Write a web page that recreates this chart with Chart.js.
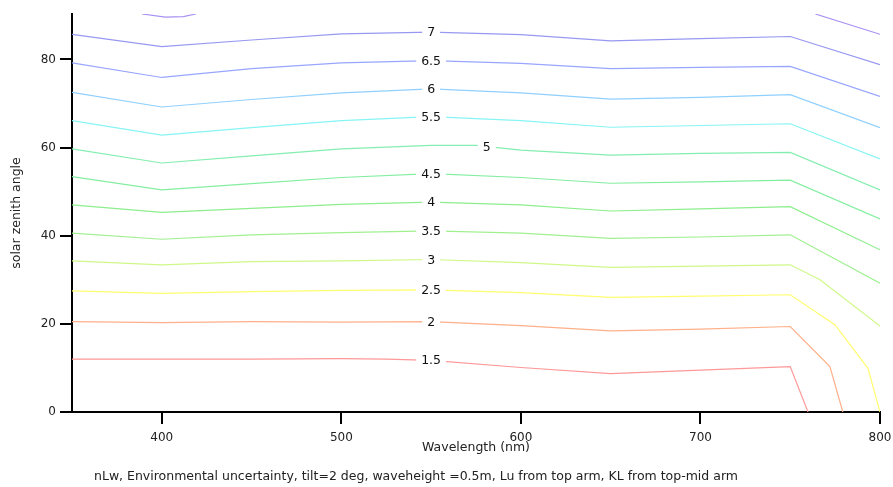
<!DOCTYPE html>
<html><head><meta charset="utf-8">
<script src="https://cdn.jsdelivr.net/npm/chart.js@4"></script>
<style>html,body{margin:0;padding:0;background:#fff;}</style>
</head><body>
<canvas id="c" width="893" height="487"></canvas>
<script>
// ---- data ----
const levels = ['1.5','2','2.5','3','3.5','4','4.5','5','5.5','6','6.5','7','7.5'];
const colors = ['#ff9898','#ffb088','#ffff70','#d0f888','#a0f090','#8cee8c','#84eea0','#84eeb0','#88f4f4','#90d0ff','#98a6ff','#9898f2','#a690f2'];

const x15 = [350,400,450,500,525,550,600,650,700,750,759.9];
const y15 = [12.0,12.0,12.0,12.1,12.0,11.7,10.1,8.7,9.5,10.3,0];
const x20 = [350,400,450,500,550,600,650,700,750,772.1,779.3];
const y20 = [20.5,20.3,20.5,20.4,20.5,19.6,18.4,18.8,19.4,10.3,0];
const x25 = [350,400,450,500,550,600,650,700,750,774.9,793.3,800];
const y25 = [27.5,26.9,27.3,27.6,27.7,27.1,26.0,26.3,26.6,19.8,9.9,0];
const x30 = [350,400,450,500,550,600,650,700,750,766.6,800];
const y30 = [34.3,33.4,34.1,34.3,34.6,33.9,32.8,33.1,33.4,30.0,19.5];
const x35 = [350,400,450,500,550,600,650,700,750,800];
const y35 = [40.6,39.2,40.2,40.7,41.1,40.6,39.4,39.7,40.2,29.2];
const x40 = [350,400,450,500,550,600,650,700,750,800];
const y40 = [47.0,45.3,46.2,47.1,47.6,47.0,45.6,46.1,46.6,36.8];
const x45 = [350,400,450,500,550,600,650,700,750,800];
const y45 = [53.4,50.4,51.8,53.2,54.1,53.2,51.9,52.2,52.6,43.8];
const x50 = [350,400,450,500,550,575,600,650,700,750,800];
const y50 = [59.7,56.5,58.1,59.7,60.5,60.5,59.4,58.3,58.7,58.9,50.4];
const x55 = [350,400,450,500,550,600,650,700,750,800];
const y55 = [66.1,62.8,64.5,66.1,67.0,66.1,64.6,65.0,65.4,57.4];
const x60 = [350,400,450,500,550,600,650,700,750,800];
const y60 = [72.5,69.2,70.9,72.4,73.3,72.4,71.0,71.4,72.0,64.5];
const x65 = [350,400,450,500,550,600,650,700,750,800];
const y65 = [79.2,75.9,77.9,79.2,79.7,79.1,77.9,78.2,78.4,71.6];
const x70 = [350,400,450,500,550,600,650,700,750,800];
const y70 = [85.7,82.9,84.4,85.8,86.2,85.6,84.2,84.7,85.2,78.8];
const x75 = [389,402,412,419,600,764,800];
const y75 = [90.3,89.6,89.7,90.3,null,90.3,85.7];

const labelText = ['7','6.5','6','5.5','5','4.5','4','3.5','3','2.5','2','1.5'];
const labelX    = [550,550,550,550,581,550,550,550,550,550,550,550];
const labelY    = [86.2,79.7,73.3,67.0,60.2,54.1,47.7,41.1,34.6,27.7,20.5,11.8];

const xTicks = [400,500,600,700,800];
const yTicks = [0,20,40,60,80];
const xTitle = 'Wavelength (nm)';
const yTitle = 'solar zenith angle';
const caption = 'nLw, Environmental uncertainty, tilt=2 deg, waveheight =0.5m, Lu from top arm, KL from top-mid arm';

// ---- build chart ----
const FONT = '"DejaVu Sans", Verdana, sans-serif';
const xs = [x15,x20,x25,x30,x35,x40,x45,x50,x55,x60,x65,x70,x75];
const ys = [y15,y20,y25,y30,y35,y40,y45,y50,y55,y60,y65,y70,y75];
const datasets = levels.map((lv,i) => ({
  label: lv,
  data: xs[i].map((x,j) => ({x: x, y: ys[i][j]})),
  borderColor: colors[i],
  borderWidth: 1.2,
  pointRadius: 0,
  tension: 0,
  fill: false,
  spanGaps: false
}));

const textPlugin = {
  id: 'textPlugin',
  afterDatasetsDraw(chart) {
    const ctx = chart.ctx, xs_ = chart.scales.x, ys_ = chart.scales.y;
    ctx.save();
    ctx.font = '12.5px ' + FONT;
    ctx.textAlign = 'center';
    ctx.textBaseline = 'middle';
    labelText.forEach((t,i) => {
      const px = xs_.getPixelForValue(labelX[i]);
      const py = ys_.getPixelForValue(labelY[i]);
      const w = ctx.measureText(t).width;
      ctx.fillStyle = '#fff';
      ctx.fillRect(px - w/2 - 5, py - 6, w + 10, 12);
      ctx.fillStyle = '#111';
      ctx.fillText(t, px, py + 1);
    });
    ctx.restore();
  },
  afterDraw(chart) {
    const ctx = chart.ctx, a = chart.chartArea;
    ctx.save();
    ctx.fillStyle = '#222';
    ctx.font = '12.5px ' + FONT;
    ctx.textAlign = 'center';
    ctx.textBaseline = 'middle';
    ctx.fillText(xTitle, (a.left + a.right)/2, 448);
    ctx.save();
    ctx.translate(17, (a.top + a.bottom)/2);
    ctx.rotate(-Math.PI/2);
    ctx.fillText(yTitle, 0, 0);
    ctx.restore();
    ctx.font = '12.5px ' + FONT;
    ctx.fillText(caption, 416, 477);
    ctx.restore();
  }
};

const axisCommon = {
  grid: {drawOnChartArea: false, drawTicks: true, tickLength: 12, color: '#000', lineWidth: 2},
  border: {display: true, color: '#000', width: 2}
};

function zeroPad(s) { s.paddingLeft = 0; s.paddingRight = 0; s.paddingTop = 0; s.paddingBottom = 0; }

new Chart(document.getElementById('c').getContext('2d'), {
  type: 'line',
  data: {datasets},
  options: {
    responsive: false,
    animation: false,
    layout: {padding: {left: 0, right: 13, top: 14, bottom: 0}},
    plugins: {legend: {display: false}, tooltip: {enabled: false}},
    scales: {
      x: Object.assign({}, axisCommon, {
        type: 'linear', min: 350, max: 800,
        afterBuildTicks: s => { s.ticks = xTicks.map(v => ({value: v})); },
        afterFit: s => { s.height = 75; zeroPad(s); },
        ticks: {color: '#222', font: {size: 12, family: FONT}, padding: 7, maxRotation: 0, autoSkip: false}
      }),
      y: Object.assign({}, axisCommon, {
        type: 'linear', min: 0, max: 90.3,
        afterBuildTicks: s => { s.ticks = yTicks.map(v => ({value: v})); },
        afterFit: s => { s.width = 72; zeroPad(s); },
        ticks: {color: '#222', font: {size: 12, family: FONT}, padding: 4, autoSkip: false}
      })
    }
  },
  plugins: [textPlugin]
});
</script>
</body></html>
